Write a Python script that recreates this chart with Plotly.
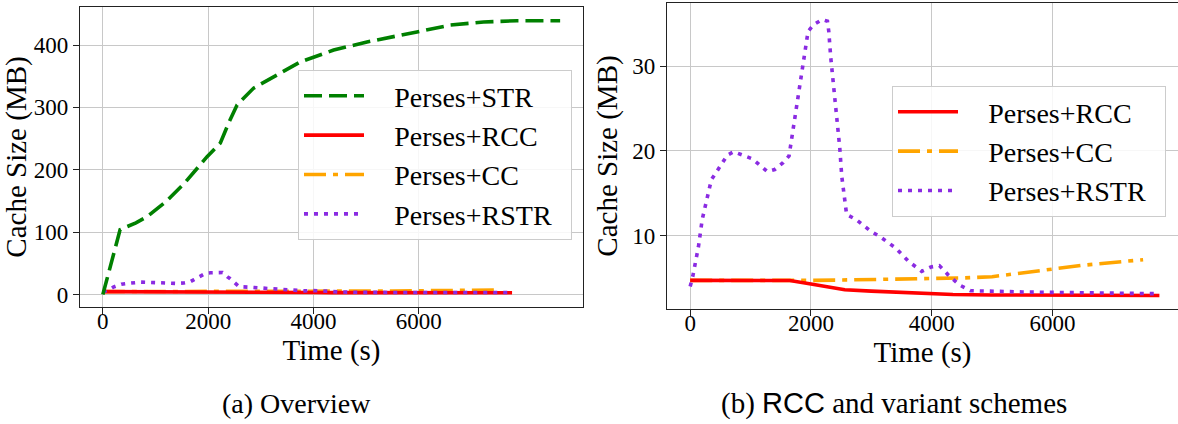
import plotly.graph_objects as go

# ---------------- data ----------------
str_t = [0, 328, 628, 842, 1199, 1556, 1979, 2231, 2389, 2548, 2863, 3243, 3750, 4382, 5015, 5964, 6596, 7229, 7861, 8683]
str_v = [0, 104, 115, 125, 149, 179, 221, 243, 275, 304, 331, 349, 373, 392, 405, 421, 432, 437, 439, 439]

rcc_t = [0, 400, 800, 1200, 1650, 2000, 2300, 2560, 3000, 3500, 4000, 4350, 5000, 6000, 7000, 7770]
rcc_v = [4.72, 4.70, 4.70, 4.70, 4.70, 4.30, 3.90, 3.62, 3.45, 3.30, 3.22, 3.05, 3.00, 2.98, 2.96, 2.94]

cc_t = [0, 400, 800, 1200, 1650, 2000, 2500, 3000, 3500, 4000, 4500, 5000, 5500, 6000, 6500, 7000, 7500]
cc_v = [4.72, 4.70, 4.70, 4.70, 4.70, 4.72, 4.76, 4.80, 4.85, 4.92, 5.00, 5.15, 5.55, 6.05, 6.50, 6.86, 7.16]

rstr_t = [0, 43, 106, 137, 199, 268, 351, 434, 527, 616, 721, 875, 1031, 1157, 1279, 1400, 1538,
          1637, 1660, 1732, 1786, 1842, 1897, 1952, 2046, 2184, 2273, 2295, 2328, 2367, 2406, 2449,
          2477, 2510, 2549, 2590, 2746, 2994, 3150, 3399, 3616, 3833, 3988, 4126, 4268, 4454, 4641,
          4921, 5500, 6000, 6500, 7000, 7713]
rstr_v = [4.0, 5.2, 7.55, 8.7, 11.9, 14.25, 16.6, 17.5, 18.5, 19.5, 19.9, 19.5, 19.05, 18.3, 17.55, 17.8, 18.6,
          19.4, 20.5, 23.9, 26.05, 29.4, 31.75, 34.1, 34.9, 35.5, 35.3, 34.1, 31.0, 28.2, 26.05, 22.7,
          20.35, 17.0, 14.6, 12.5, 11.9, 10.5, 9.85, 8.55, 6.97, 5.79, 6.3, 6.46, 5.4, 4.2, 3.5,
          3.42, 3.35, 3.3, 3.25, 3.2, 3.15]

names = {"str": "Perses+STR", "rcc": "Perses+RCC", "cc": "Perses+CC", "rstr": "Perses+RSTR"}
x_ticks = [0, 2000, 4000, 6000]
left_y_ticks = [0, 100, 200, 300, 400]
right_y_ticks = [10, 20, 30]
caption_a = "(a) Overview"
caption_b = "(b) <span style='font-family:Liberation Sans'>RCC</span> and variant schemes"

# ---------------- styles ----------------
FONT = "Liberation Serif"
GREEN, RED, ORANGE, PURPLE = "#008000", "#FF0000", "#FFA500", "#8A2BE2"
LW = 3.6
DASH = "18px,7px"
DASHDOT = "22px,7px,5px,7px"
DOT = "4px,6px"
GAP_L = "\u2002\u2009\u2009"  # spacing between legend sample and label
GAP_R = "\u2002"              # right padding inside legend box

W, H = 1178, 424

fig = go.Figure()

def add(x, y, name, color, dash, xa, ya, leg, rank):
    fig.add_trace(go.Scatter(
        x=x, y=y, name=GAP_L + name + GAP_R, mode="lines",
        line=dict(color=color, width=LW, dash=dash),
        xaxis=xa, yaxis=ya, legend=leg, legendrank=rank,
    ))

# left panel (draw order: CC under RCC, RSTR, STR on top)
add(cc_t, cc_v, names["cc"], ORANGE, DASHDOT, "x", "y", "legend", 3)
add(rcc_t, rcc_v, names["rcc"], RED, "solid", "x", "y", "legend", 2)
add(rstr_t, rstr_v, names["rstr"], PURPLE, DOT, "x", "y", "legend", 4)
add(str_t, str_v, names["str"], GREEN, DASH, "x", "y", "legend", 1)

# right panel
add(cc_t, cc_v, names["cc"], ORANGE, DASHDOT, "x2", "y2", "legend2", 2)
add(rcc_t, rcc_v, names["rcc"], RED, "solid", "x2", "y2", "legend2", 1)
add(rstr_t, rstr_v, names["rstr"], PURPLE, DOT, "x2", "y2", "legend2", 3)

axis_common = dict(
    showline=True, linecolor="#222222", linewidth=1.2, mirror=True,
    showgrid=True, gridcolor="#c8c8c8", gridwidth=1,
    ticks="outside", ticklen=6, tickwidth=1, tickcolor="#222222",
    tickfont=dict(family=FONT, size=23, color="black"),
    zeroline=False,
)
title_font = dict(family=FONT, size=29, color="black")

legend_common = dict(
    font=dict(family=FONT, size=28, color="black"),
    bgcolor="rgba(255,255,255,0.85)", bordercolor="#cccccc", borderwidth=1,
    xanchor="left", yanchor="top", itemwidth=60, traceorder="normal",
)

fig.update_layout(
    width=W, height=H,
    margin=dict(l=0, r=0, t=0, b=0),
    plot_bgcolor="white", paper_bgcolor="white",
    hovermode=False,
    xaxis=dict(domain=[80 / W, 583 / W], range=[-434, 9117], tickvals=x_ticks,
               ticklabelstandoff=-13,
               title=dict(text="Time (s)", font=title_font, standoff=4),
               anchor="y", **axis_common),
    yaxis=dict(domain=[1 - 307 / H, 1 - 7 / H], range=[-20, 461], tickvals=left_y_ticks,
               title=dict(text="Cache Size (MB)", font=title_font, standoff=6),
               anchor="x", **axis_common),
    xaxis2=dict(domain=[667 / W, 1.0], range=[-384, 8078], tickvals=x_ticks,
                ticklabelstandoff=-13,
                title=dict(text="Time (s)", font=title_font, standoff=4),
                anchor="y2", **axis_common),
    yaxis2=dict(domain=[1 - 309 / H, 1 - 3 / H], range=[1.34, 37.45], tickvals=right_y_ticks,
                title=dict(text="Cache Size (MB)", font=title_font, standoff=6),
                anchor="x2", **axis_common),
    legend=dict(x=298 / W, y=1 - 70 / H, **legend_common),
    legend2=dict(x=892 / W, y=1 - 86 / H, **legend_common),
    annotations=[
        dict(text=caption_a, x=296 / W, y=1 - 403 / H, xref="paper", yref="paper",
             showarrow=False, xanchor="center", yanchor="middle",
             font=dict(family=FONT, size=28, color="black")),
        dict(text=caption_b, x=894 / W, y=1 - 403 / H, xref="paper", yref="paper",
             showarrow=False, xanchor="center", yanchor="middle",
             font=dict(family=FONT, size=29, color="black")),
    ],
)

fig.write_html("out.html", config={"displayModeBar": False},
               post_script="document.body.style.margin='0px';")
